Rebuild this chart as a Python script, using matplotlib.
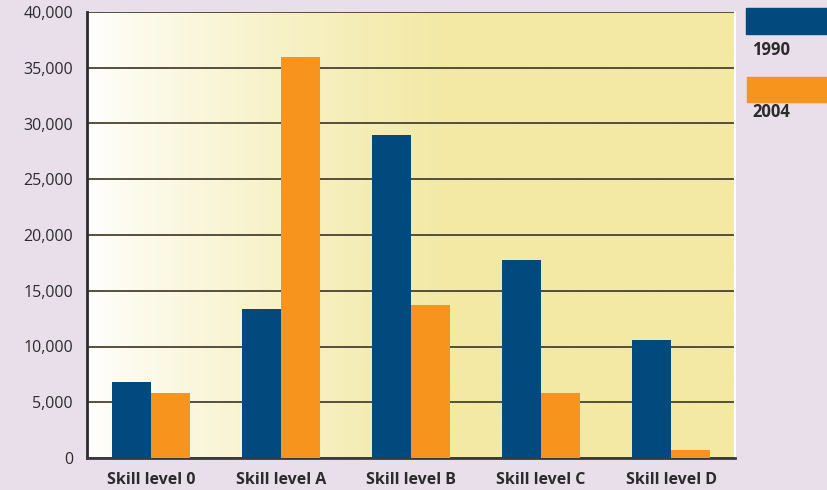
import matplotlib.pyplot as plt
import numpy as np
from matplotlib.colors import LinearSegmentedColormap

# Employment by skill level, 1990 vs 2004
categories = ["Skill level 0", "Skill level A", "Skill level B", "Skill level C", "Skill level D"]
years = ["1990", "2004"]
jobs_1990 = [6800, 13400, 29000, 17800, 10600]
jobs_2004 = [5800, 36000, 13700, 5800, 700]

navy = "#024a7e"
orange = "#f7941e"
bg = "#e8dfeb"
yellow = "#f3e9a5"

plt.rcParams['font.family'] = ['Open Sans', 'DejaVu Sans']

fig = plt.figure(figsize=[8.27, 4.9], dpi=100, facecolor=bg)
ax = fig.add_axes([87/827, 1 - 458/490, (735-87)/827, (458-12)/490])

# white-to-yellow background fade inside the plot area
grad = np.linspace(0, 1, 256)
grad = np.clip(grad / 0.55, 0, 1) ** 0.8
cmap = LinearSegmentedColormap.from_list("fade", ["#ffffff", yellow])
ax.imshow(grad[np.newaxis, :], aspect='auto', cmap=cmap,
          extent=[0, 1, 0, 1], transform=ax.transAxes, zorder=0)

x = np.arange(len(categories))
w = 0.3
ax.bar(x - w/2, jobs_1990, width=w, color=navy, zorder=3)
ax.bar(x + w/2, jobs_2004, width=w, color=orange, zorder=3)

ax.set_xlim(-0.492, len(categories) - 1 + 0.492)
ax.set_ylim(0, 40000)
ax.set_yticks(range(0, 40001, 5000))
ax.set_yticklabels([f"{v:,}" for v in range(0, 40001, 5000)])
ax.set_xticks(x)
ax.set_xticklabels(categories, fontweight='bold')

ax.grid(axis='y', color='#4a4232', linewidth=1.3, zorder=1)
ax.set_axisbelow(True)
ax.tick_params(axis='both', length=0, labelsize=11.5, colors='#2b2b2b')
ax.tick_params(axis='x', pad=10)
ax.tick_params(axis='y', pad=10)

ax.spines['top'].set_visible(False)
ax.spines['right'].set_color('white')
ax.spines['right'].set_linewidth(1.5)
ax.spines['left'].set_color('#2b2b2b')
ax.spines['left'].set_linewidth(2)
ax.spines['bottom'].set_color('#3a3a3a')
ax.spines['bottom'].set_linewidth(2)

# legend swatches on the right edge
fig.patches.append(plt.Rectangle((746/827, 1 - 34/490), 90/827, 26/490,
                                 transform=fig.transFigure, color=navy))
fig.patches.append(plt.Rectangle((747/827, 1 - 102/490), 90/827, 25/490,
                                 transform=fig.transFigure, color=orange))
fig.text(752/827, 1 - 50/490, years[0], fontsize=12, fontweight='bold',
         color='#2b2b2b', va='center')
fig.text(752/827, 1 - 112/490, years[1], fontsize=12, fontweight='bold',
         color='#2b2b2b', va='center')

plt.savefig("out.png", dpi=100, facecolor=bg)
